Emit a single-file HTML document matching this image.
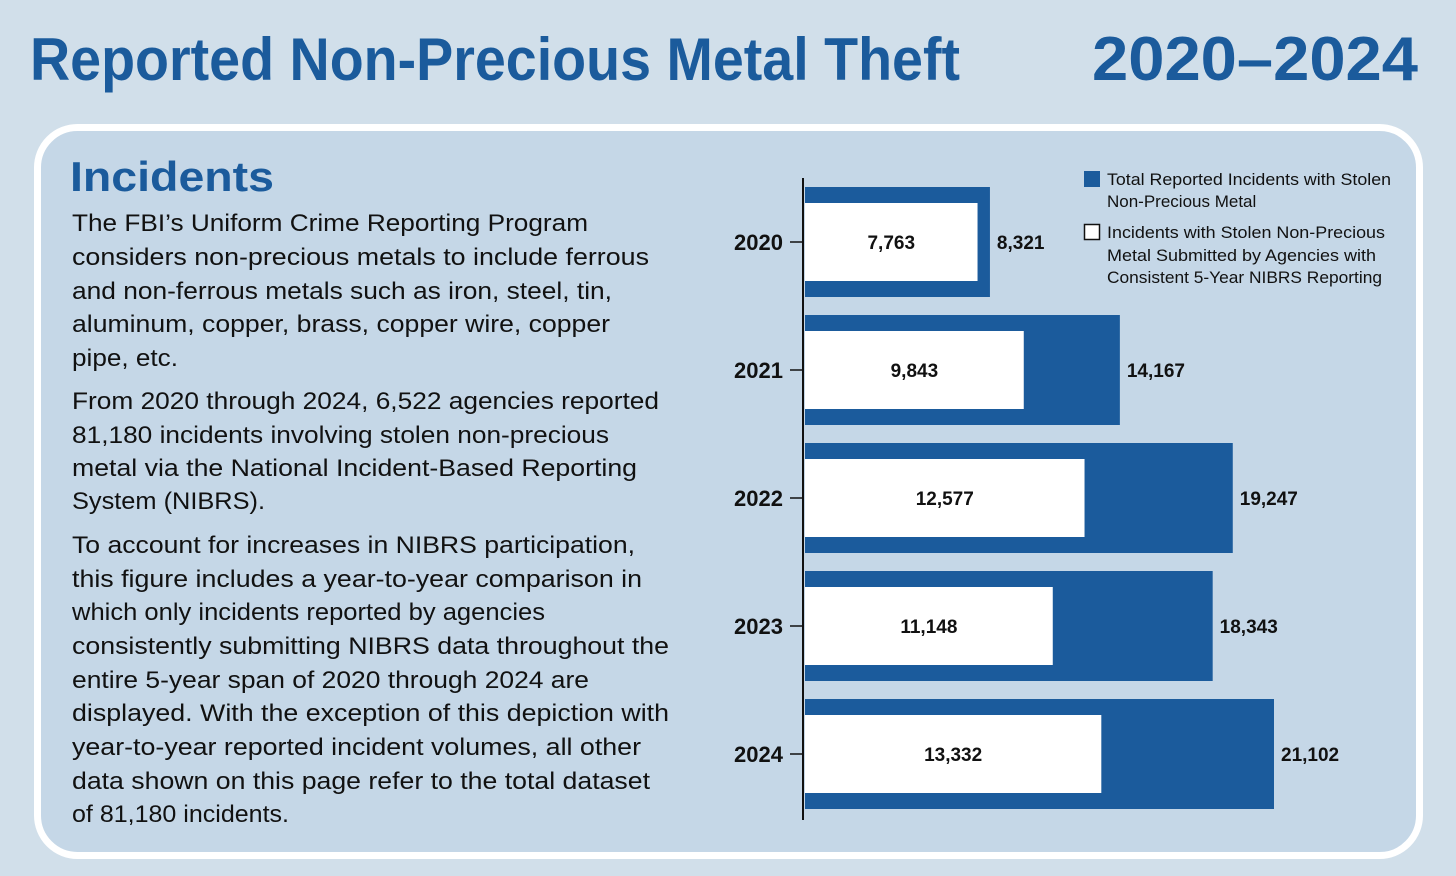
<!DOCTYPE html>
<html><head><meta charset="utf-8"><style>
html,body{margin:0;padding:0;background:#d1dfea;}
svg{display:block;font-family:"Liberation Sans",sans-serif;}
</style></head><body>
<svg width="1456" height="876" viewBox="0 0 1456 876">
<rect x="0" y="0" width="1456" height="876" fill="#d1dfea"/>
<text x="30" y="80" font-size="60" font-weight="bold" fill="#1b5b9c" textLength="930" lengthAdjust="spacingAndGlyphs">Reported Non-Precious Metal Theft</text>
<text x="1418" y="80" font-size="62" font-weight="bold" fill="#1b5b9c" text-anchor="end" textLength="326" lengthAdjust="spacingAndGlyphs">2020–2024</text>
<rect x="37.5" y="127.5" width="1382" height="728" rx="40" fill="#c5d7e7" stroke="#ffffff" stroke-width="7"/>
<text x="70" y="191" font-size="42" font-weight="bold" fill="#1b5b9c" textLength="204" lengthAdjust="spacingAndGlyphs">Incidents</text>
<g font-size="24" fill="#111">
<text x="72" y="231" textLength="516" lengthAdjust="spacingAndGlyphs">The FBI’s Uniform Crime Reporting Program</text>
<text x="72" y="265" textLength="577" lengthAdjust="spacingAndGlyphs">considers non-precious metals to include ferrous</text>
<text x="72" y="299" textLength="540" lengthAdjust="spacingAndGlyphs">and non-ferrous metals such as iron, steel, tin,</text>
<text x="72" y="332" textLength="538" lengthAdjust="spacingAndGlyphs">aluminum, copper, brass, copper wire, copper</text>
<text x="72" y="366" textLength="106" lengthAdjust="spacingAndGlyphs">pipe, etc.</text>
<text x="72" y="409" textLength="587" lengthAdjust="spacingAndGlyphs">From 2020 through 2024, 6,522 agencies reported</text>
<text x="72" y="443" textLength="537" lengthAdjust="spacingAndGlyphs">81,180 incidents involving stolen non-precious</text>
<text x="72" y="476" textLength="565" lengthAdjust="spacingAndGlyphs">metal via the National Incident-Based Reporting</text>
<text x="72" y="509" textLength="193" lengthAdjust="spacingAndGlyphs">System (NIBRS).</text>
<text x="72" y="553" textLength="563" lengthAdjust="spacingAndGlyphs">To account for increases in NIBRS participation,</text>
<text x="72" y="587" textLength="570" lengthAdjust="spacingAndGlyphs">this figure includes a year-to-year comparison in</text>
<text x="72" y="620" textLength="473" lengthAdjust="spacingAndGlyphs">which only incidents reported by agencies</text>
<text x="72" y="654" textLength="597" lengthAdjust="spacingAndGlyphs">consistently submitting NIBRS data throughout the</text>
<text x="72" y="688" textLength="517" lengthAdjust="spacingAndGlyphs">entire 5-year span of 2020 through 2024 are</text>
<text x="72" y="721" textLength="597" lengthAdjust="spacingAndGlyphs">displayed. With the exception of this depiction with</text>
<text x="72" y="755" textLength="569" lengthAdjust="spacingAndGlyphs">year-to-year reported incident volumes, all other</text>
<text x="72" y="789" textLength="578" lengthAdjust="spacingAndGlyphs">data shown on this page refer to the total dataset</text>
<text x="72" y="822" textLength="217" lengthAdjust="spacingAndGlyphs">of 81,180 incidents.</text>
</g>
<g id="chart"></g>
<g>
<rect x="1084" y="171" width="16" height="16" fill="#1b5b9c"/>
<text x="1107" y="185" font-size="17" fill="#111"><tspan x="1107" textLength="284" lengthAdjust="spacingAndGlyphs">Total Reported Incidents with Stolen</tspan><tspan x="1107" dy="22">Non-Precious Metal</tspan></text>
<rect x="1084.5" y="224.5" width="15" height="15" fill="#fff" stroke="#111" stroke-width="1.5"/>
<text x="1107" y="238" font-size="17" fill="#111"><tspan x="1107" textLength="278" lengthAdjust="spacingAndGlyphs">Incidents with Stolen Non-Precious</tspan><tspan x="1107" dy="23" textLength="269" lengthAdjust="spacingAndGlyphs">Metal Submitted by Agencies with</tspan><tspan x="1107" dy="22" textLength="275" lengthAdjust="spacingAndGlyphs">Consistent 5-Year NIBRS Reporting</tspan></text>
</g>
</svg>
<script>
const years = ["2020","2021","2022","2023","2024"];
const totalValues = [8321, 14167, 19247, 18343, 21102];
const consistentValues = [7763, 9843, 12577, 11148, 13332];
const totalLabels = ["8,321","14,167","19,247","18,343","21,102"];
const consistentLabels = ["7,763","9,843","12,577","11,148","13,332"];

const NS = "http://www.w3.org/2000/svg";
const g = document.getElementById("chart");
const x0 = 805, pxPerUnit = 469 / 21102;
function xScale(v){ return x0 + v * pxPerUnit; }
function yBand(i){ return 187 + i * 128; }
const bandH = 110;
function mk(tag, attrs){ const e = document.createElementNS(NS, tag); for (const k in attrs) e.setAttribute(k, attrs[k]); g.appendChild(e); return e; }

years.forEach((yr, i) => {
  const y = yBand(i);
  const outer = mk("rect", {x: x0, y: y, width: xScale(totalValues[i]) - x0, height: bandH, fill: "#1b5b9c"});
  
  
  const inner = mk("rect", {x: x0, y: y + 16, width: xScale(consistentValues[i]) - x0, height: 78, fill: "#ffffff"});
  
  
  const cy = y + bandH / 2 + 7;
  const iv = mk("text", {x: (x0 + xScale(consistentValues[i])) / 2, y: cy, "font-size": 19, "font-weight": "bold", "text-anchor": "middle", fill: "#111"});
  iv.textContent = consistentLabels[i];
  
  
  const tv = mk("text", {x: xScale(totalValues[i]) + 7, y: cy, "font-size": 19, "font-weight": "bold", fill: "#111"});
  tv.textContent = totalLabels[i];
  
  
  const tick = mk("line", {x1: 790, x2: 803, y1: y + bandH / 2, y2: y + bandH / 2, stroke: "#111", "stroke-width": 1.5});
  
  
  const yl = mk("text", {x: 783, y: y + bandH / 2 + 8, "font-size": 22, "font-weight": "bold", "text-anchor": "end", fill: "#111"});
  yl.textContent = yr;
  
  
});
const axis = mk("line", {x1: 803, x2: 803, y1: 178, y2: 820, stroke: "#111", "stroke-width": 2});


</script>
</body></html>
